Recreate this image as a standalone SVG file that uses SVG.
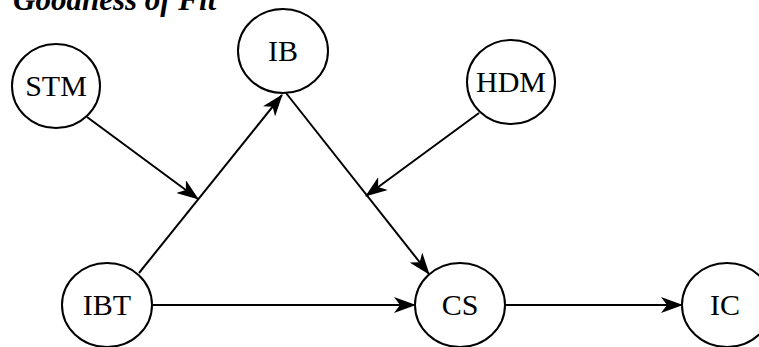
<svg xmlns="http://www.w3.org/2000/svg" width="759" height="347" viewBox="0 0 759 347">
<style>
.node ellipse{fill:#fff;stroke:#000;stroke-width:2}
.node text{font-family:"Liberation Serif","Times New Roman",serif;font-size:30px;fill:#000;text-anchor:middle}
.edges line{stroke:#000;stroke-width:2;fill:none}
.title{font-family:"Liberation Serif","Times New Roman",serif;font-size:31px;font-weight:bold;font-style:italic;fill:#000}
</style>
<defs>
<marker id="arr" markerUnits="userSpaceOnUse" markerWidth="22" markerHeight="16" refX="21" refY="8" orient="auto" viewBox="0 0 22 16">
<path d="M0,0 L22,8 L0,16 L6,8 z" fill="#000"/>
</marker>
</defs>
<text class="title" x="13" y="10">Goodness of Fit</text>
<g class="edges">
<line x1="139" y1="273" x2="282" y2="95" marker-end="url(#arr)"/>
<line x1="87" y1="117" x2="198" y2="199" marker-end="url(#arr)"/>
<line x1="286" y1="93" x2="429" y2="274" marker-end="url(#arr)"/>
<line x1="479" y1="113" x2="366" y2="196" marker-end="url(#arr)"/>
<line x1="153" y1="305" x2="415" y2="305" marker-end="url(#arr)"/>
<line x1="505" y1="305" x2="682" y2="305" marker-end="url(#arr)"/>
</g>
<g id="STM" class="node"><ellipse cx="56" cy="86" rx="44" ry="42"/><text x="56" y="96">STM</text></g>
<g id="IB" class="node"><ellipse cx="283" cy="51" rx="45" ry="42"/><text x="283" y="61">IB</text></g>
<g id="HDM" class="node"><ellipse cx="511" cy="82" rx="44" ry="42"/><text x="511" y="92">HDM</text></g>
<g id="IBT" class="node"><ellipse cx="107" cy="305" rx="45" ry="42"/><text x="107" y="315">IBT</text></g>
<g id="CS" class="node"><ellipse cx="460" cy="305" rx="45" ry="42"/><text x="460" y="315">CS</text></g>
<g id="IC" class="node"><ellipse cx="727" cy="305" rx="45" ry="42"/><text x="725" y="315">IC</text></g>
</svg>
